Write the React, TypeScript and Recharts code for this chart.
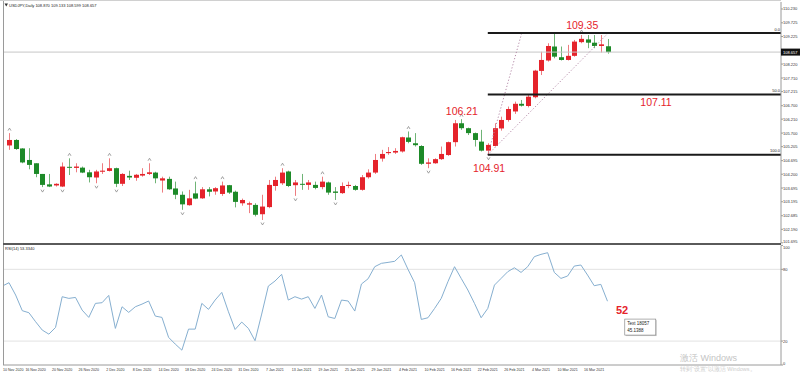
import { ComposedChart, Bar, LineChart, Line, XAxis, YAxis, ReferenceLine, ReferenceDot } from 'recharts';

const RED = '#e5232b';
const GREEN = '#1d8a28';
const RED_WICK = '#ee7c80';
const GREEN_WICK = '#6fb476';
const FONT = '"Liberation Sans", Arial, sans-serif';

// one label every 4 bars, first bar = 10 Nov 2020
const DATES = [
  '10 Nov 2020', '16 Nov 2020', '20 Nov 2020', '26 Nov 2020', '2 Dec 2020', '8 Dec 2020',
  '14 Dec 2020', '18 Dec 2020', '24 Dec 2020', '31 Dec 2020', '7 Jan 2021', '13 Jan 2021',
  '19 Jan 2021', '25 Jan 2021', '29 Jan 2021', '4 Feb 2021', '10 Feb 2021', '16 Feb 2021',
  '22 Feb 2021', '26 Feb 2021', '4 Mar 2021', '10 Mar 2021', '16 Mar 2021',
];

const OPEN = [
  105.25, 105.45, 105.14, 104.72, 104.60, 104.21, 103.83, 103.79, 103.75, 104.47,
  104.43, 104.44, 104.27, 104.08, 104.29, 104.32, 104.42, 103.85, 104.14, 104.07,
  104.15, 104.21, 104.26, 103.97, 104.03, 103.68, 103.45, 103.07, 103.50, 103.32,
  103.65, 103.57, 103.48, 103.80, 103.56, 103.14, 103.09, 103.08, 102.74, 103.00,
  103.77, 103.87, 104.30, 103.80, 103.85, 103.81, 103.81, 103.73, 103.90, 103.57,
  103.51, 103.77, 103.77, 103.63, 104.09, 104.26, 104.77, 104.97, 104.99, 105.03,
  105.54, 105.33, 105.23, 104.58, 104.60, 104.75, 104.90, 105.37, 106.06, 105.88,
  105.70, 105.39, 105.06, 105.23, 105.87, 106.18, 106.49, 106.77, 106.69, 107.01,
  107.97, 108.35, 108.86, 108.47, 108.37, 108.52, 109.02, 109.12, 109.00, 108.88,
  108.870,
];
const HIGH = [
  105.70, 105.48, 105.15, 105.15, 104.60, 104.21, 104.21, 103.87, 104.63, 104.78,
  104.60, 104.48, 104.36, 104.36, 104.60, 104.78, 104.44, 104.24, 104.33, 104.21,
  104.42, 104.60, 104.29, 104.11, 104.11, 103.93, 103.57, 103.63, 103.93, 103.73,
  103.73, 103.73, 103.93, 103.81, 103.60, 103.31, 103.20, 103.14, 103.45, 103.99,
  104.11, 104.42, 104.33, 103.99, 104.21, 103.99, 103.93, 104.11, 103.93, 103.73,
  103.90, 103.93, 103.81, 104.17, 104.38, 104.94, 105.09, 105.19, 105.15, 105.57,
  105.76, 105.70, 105.26, 104.78, 104.78, 105.21, 105.39, 106.18, 106.21, 105.90,
  105.72, 105.82, 105.33, 106.06, 106.30, 106.67, 106.85, 106.91, 107.09, 108.01,
  108.67, 108.98, 109.35, 108.86, 108.92, 109.10, 109.28, 109.28, 109.28, 109.28,
  109.133,
];
const LOW = [
  105.09, 105.09, 104.60, 104.38, 104.09, 103.73, 103.73, 103.75, 103.73, 104.17,
  104.27, 104.24, 103.90, 103.87, 104.21, 104.30, 103.73, 103.77, 103.99, 103.96,
  104.11, 104.17, 103.87, 103.53, 103.63, 103.29, 102.90, 103.05, 103.29, 103.30,
  103.39, 103.45, 103.41, 103.48, 102.99, 103.05, 102.78, 102.66, 102.53, 102.96,
  103.60, 103.81, 103.73, 103.41, 103.63, 103.63, 103.65, 103.65, 103.45, 103.26,
  103.48, 103.69, 103.60, 103.60, 104.04, 104.21, 104.66, 104.91, 104.94, 104.99,
  105.33, 105.21, 104.54, 104.42, 104.58, 104.72, 104.87, 105.21, 105.82, 105.63,
  105.21, 105.03, 104.91, 105.21, 105.79, 106.12, 106.40, 106.67, 106.64, 106.97,
  107.82, 108.31, 108.43, 108.35, 108.35, 108.49, 108.98, 108.80, 108.80, 108.64,
  108.599,
];
const CLOSE = [
  105.45, 105.12, 104.63, 104.54, 104.21, 103.81, 103.75, 103.85, 104.48, 104.44,
  104.48, 104.26, 104.09, 104.30, 104.33, 104.42, 103.85, 104.21, 104.08, 104.18,
  104.21, 104.27, 104.05, 104.05, 103.65, 103.45, 103.10, 103.32, 103.31, 103.65,
  103.56, 103.69, 103.79, 103.53, 103.19, 103.26, 103.14, 102.72, 103.02, 103.81,
  103.99, 104.26, 103.77, 103.90, 103.82, 103.90, 103.70, 103.93, 103.53, 103.52,
  103.77, 103.81, 103.63, 104.09, 104.26, 104.72, 104.94, 105.01, 105.05, 105.55,
  105.38, 105.26, 104.58, 104.63, 104.75, 104.94, 105.37, 106.06, 105.88, 105.70,
  105.45, 105.06, 105.27, 105.88, 106.18, 106.58, 106.77, 106.70, 107.03, 107.98,
  108.37, 108.88, 108.49, 108.37, 108.52, 109.04, 109.14, 109.00, 108.88, 108.94,
  108.657,
];

// RSI(14), starting one bar before the first candle (9 Nov 2020)
const RSI = [
  66.0,
  68.8, 58.5, 45.4, 43.7, 36.2, 29.2, 25.8, 31.4, 57.1, 55.7,
  56.5, 45.9, 39.8, 51.5, 52.1, 58.2, 30.6, 48.7, 44.0, 48.7,
  50.9, 53.5, 40.9, 39.8, 23.1, 17.5, 12.4, 30.0, 30.0, 51.5,
  46.5, 54.3, 60.7, 44.5, 29.7, 35.9, 30.6, 20.3, 42.6, 66.0,
  70.2, 75.8, 54.3, 57.1, 55.1, 57.1, 47.3, 58.5, 40.3, 38.9,
  54.3, 53.5, 45.1, 67.7, 72.1, 82.2, 85.0, 85.8, 86.7, 92.0,
  80.0, 68.8, 38.1, 39.5, 47.3, 55.7, 69.6, 82.2, 72.4, 62.7,
  51.5, 39.5, 47.3, 66.8, 72.4, 78.0, 81.3, 77.4, 82.2, 90.6,
  92.5, 93.9, 77.4, 72.4, 74.4, 82.7, 83.6, 75.2, 66.3, 67.4,
  53.33,
];

const FRACTAL_UP = [0, 9, 15, 21, 28, 32, 41, 47, 60, 68, 86];
const FRACTAL_DOWN = [5, 8, 13, 16, 26, 38, 43, 49, 63, 72];

const PRICE_TICKS = [
  110.23, 109.725, 109.225, 108.22, 107.71, 107.215, 106.7, 106.21, 105.7,
  105.205, 104.695, 104.2, 103.695, 103.195, 102.685, 102.19, 101.695,
];
const RSI_TICKS = [0, 20, 80, 100];

const SWING_LOW = 104.91;
const SWING_HIGH = 109.35;
const FIB_MID = 107.11;
const LAST_PRICE = 108.657;

const X_MIN = -0.9;
const X_MAX = 116.09;

const candles = OPEN.map((o, i) => ({
  idx: i,
  open: o,
  high: HIGH[i],
  low: LOW[i],
  close: CLOSE[i],
  range: [LOW[i], HIGH[i]],
  fu: FRACTAL_UP.includes(i),
  fd: FRACTAL_DOWN.includes(i),
}));
const rsiRows = RSI.map((v, i) => ({ idx: i - 1, rsi: v }));
const dateTicks = DATES.map((_, k) => k * 4);

const Candle = (props: any) => {
  const { x, y, width, height, payload } = props;
  if (!payload || x == null) return null;
  const { open, close, high, low, fu, fd } = payload;
  const top = Math.min(y, y + height);
  const h = Math.abs(height);
  const k = high > low ? h / (high - low) : 0;
  const py = (v: number) => top + (high - v) * k;
  const cx = Math.round(x + width / 2);
  const up = close >= open;
  const bTop = py(Math.max(open, close));
  const bH = Math.max(py(Math.min(open, close)) - bTop, 1);
  return (
    <g>
      <line x1={cx + 0.5} x2={cx + 0.5} y1={top} y2={top + h} stroke={up ? RED_WICK : GREEN_WICK} strokeWidth={1} />
      <rect x={cx - 2} y={bTop} width={5} height={bH} fill={up ? RED : GREEN} />
      {fu && (
        <path d={`M${cx - 1},${top - 2.5} L${cx + 0.5},${top - 5} L${cx + 2},${top - 2.5}`} stroke="#8c8c8c" strokeWidth={0.8} fill="none" />
      )}
      {fd && (
        <path d={`M${cx - 1},${top + h + 2.5} L${cx + 0.5},${top + h + 5} L${cx + 2},${top + h + 2.5}`} stroke="#8c8c8c" strokeWidth={0.8} fill="none" />
      )}
    </g>
  );
};

const Note = ({ viewBox, text, dx = 0, dy = 0, size = 10.5, anchor = 'middle', color = RED, weight = 'normal' }: any) => {
  const vb = viewBox || {};
  return (
    <text x={(vb.x ?? 0) + dx} y={(vb.y ?? 0) + dy} textAnchor={anchor} fontSize={size} fill={color} fontFamily={FONT} fontWeight={weight}>
      {text}
    </text>
  );
};

const PriceBox = ({ viewBox }: any) => {
  const vb = viewBox || {};
  const x = vb.x ?? 0;
  const y = vb.y ?? 0;
  return (
    <g>
      <rect x={x} y={y - 3.5} width={19} height={7} fill="#111" />
      <text x={x + 2} y={y + 1.5} fontSize={4} fill="#fff" fontFamily={FONT}>{LAST_PRICE.toFixed(3)}</text>
    </g>
  );
};

const InfoBox = ({ viewBox }: any) => {
  const vb = viewBox || {};
  const x = vb.x ?? 0;
  const y = vb.y ?? 0;
  return (
    <g>
      <rect x={x + 1} y={y + 1} width={31} height={16} fill="#cfcfcf" />
      <rect x={x} y={y} width={31} height={16} fill="#fff" stroke="#7a7a7a" strokeWidth={0.6} />
      <text x={x + 2.5} y={y + 6} fontSize={4.5} fill="#222" fontFamily={FONT}>Text 18057</text>
      <text x={x + 2.5} y={y + 12.5} fontSize={4.5} fill="#222" fontFamily={FONT}>45.1388</text>
    </g>
  );
};

const PriceTick = ({ x, y, payload }: any) => (
  <text x={x} y={y + (y > 240 ? 0 : 1.5)} fontSize={4} fill="#333" fontFamily={FONT} textAnchor="start">
    {Number(payload.value).toFixed(3)}
  </text>
);

const RsiTick = ({ x, y, payload }: any) => (
  <text x={x} y={y + (payload.value === 100 ? 3.5 : payload.value === 0 ? 0 : 1.5)} fontSize={4} fill="#333" fontFamily={FONT} textAnchor="start">
    {payload.value}
  </text>
);

const DateTick = ({ x, y, payload }: any) => {
  const first = payload.value === 0;
  return (
    <text x={first ? 3 : x} y={y + 5.5} fontSize={3.6} fill="#333" fontFamily={FONT} textAnchor={first ? 'start' : 'middle'}>
      {DATES[payload.value / 4]}
    </text>
  );
};

export default function App() {
  return (
    <div style={{ position: 'absolute', left: 0, top: 0, width: 800, height: 375, background: '#fff', overflow: 'hidden' }}>
      <div style={{ position: 'absolute', left: 0, top: 0 }}>
        <ComposedChart width={800} height={245} data={candles} margin={{ top: 2, right: 0, bottom: 2, left: 3 }}>
          <XAxis dataKey="idx" type="number" domain={[X_MIN, X_MAX]} allowDataOverflow hide />
          <YAxis
            orientation="right"
            width={19}
            domain={[101.69, 110.485]}
            allowDataOverflow
            ticks={PRICE_TICKS}
            interval={0}
            tickSize={2}
            tickMargin={0}
            stroke="#9a9a9a"
            tick={<PriceTick />}
          />
          <ReferenceLine y={LAST_PRICE} stroke="#c6c6c6" strokeWidth={1} />
          <Bar dataKey="range" barSize={5} shape={<Candle />} isAnimationActive={false} />
          <ReferenceLine segment={[{ x: 72, y: SWING_LOW }, { x: 77.1, y: SWING_HIGH }]} stroke="#b58aa8" strokeDasharray="1.2 2" strokeWidth={1} />
          <ReferenceLine segment={[{ x: 72, y: SWING_LOW }, { x: 90.1, y: SWING_HIGH }]} stroke="#b58aa8" strokeDasharray="1.2 2" strokeWidth={1} />
          <ReferenceLine segment={[{ x: 72, y: SWING_HIGH }, { x: X_MAX, y: SWING_HIGH }]} stroke="#1a1a1a" strokeWidth={2} />
          <ReferenceLine segment={[{ x: 72, y: FIB_MID }, { x: X_MAX, y: FIB_MID }]} stroke="#1a1a1a" strokeWidth={2} />
          <ReferenceLine segment={[{ x: 72, y: SWING_LOW }, { x: X_MAX, y: SWING_LOW }]} stroke="#1a1a1a" strokeWidth={2} />
          <ReferenceDot x={X_MAX} y={SWING_HIGH} r={0} label={<Note text="0.0" anchor="end" dx={-1} dy={-2.5} size={4} color="#222" />} />
          <ReferenceDot x={X_MAX} y={FIB_MID} r={0} label={<Note text="50.0" anchor="end" dx={-1} dy={-2.5} size={4} color="#222" />} />
          <ReferenceDot x={X_MAX} y={SWING_LOW} r={0} label={<Note text="100.0" anchor="end" dx={-1} dy={-2.5} size={4} color="#222" />} />
          <ReferenceDot x={86.2} y={SWING_HIGH} r={0} label={<Note text="109.35" dy={-4} />} />
          <ReferenceDot x={68.1} y={106.21} r={0} label={<Note text="106.21" dy={-4} />} />
          <ReferenceDot x={72.2} y={SWING_LOW} r={0} label={<Note text="104.91" dy={17} />} />
          <ReferenceDot x={97.3} y={FIB_MID} r={0} label={<Note text="107.11" dy={12} />} />
          <ReferenceDot x={X_MAX} y={LAST_PRICE} r={0} label={<PriceBox />} />
        </ComposedChart>
      </div>
      <div style={{ position: 'absolute', left: 0, top: 243 }}>
        <LineChart width={800} height={132} data={rsiRows} margin={{ top: 2.4, right: 0, bottom: 0, left: 3 }}>
          <XAxis
            dataKey="idx"
            type="number"
            domain={[X_MIN, X_MAX]}
            allowDataOverflow
            ticks={dateTicks}
            interval={0}
            height={10}
            tickSize={0}
            tickMargin={0}
            stroke="#9a9a9a"
            tick={<DateTick />}
          />
          <YAxis
            orientation="right"
            width={19}
            domain={[0, 100]}
            ticks={RSI_TICKS}
            interval={0}
            tickSize={2}
            tickMargin={0}
            stroke="#9a9a9a"
            tick={<RsiTick />}
          />
          <ReferenceLine y={80} stroke="#e2e2e2" />
          <ReferenceLine y={20} stroke="#e2e2e2" />
          <Line dataKey="rsi" type="linear" stroke="#86afd0" strokeWidth={1} dot={false} isAnimationActive={false} />
          <ReferenceDot x={92.2} y={42.6} r={0} label={<Note text="52" size={11} weight="bold" />} />
          <ReferenceDot x={92.6} y={38.4} r={0} label={<InfoBox />} />
        </LineChart>
      </div>
      <svg width={800} height={375} style={{ position: 'absolute', left: 0, top: 0, pointerEvents: 'none' }}>
        <line x1={3.5} x2={3.5} y1={0} y2={365} stroke="#9a9a9a" />
        <line x1={0} x2={781} y1={0.5} y2={0.5} stroke="#d0d0d0" />
        <line x1={3} x2={781} y1={244} y2={244} stroke="#5a5a5a" strokeWidth={2} />
        <path d="M4.5,3.5 L8,3.5 L6.25,6.5 Z" fill="#333" />
        <text x={9} y={6.5} fontSize={4} fill="#222" fontFamily={FONT}>USDJPY,Daily  108.870 109.133 108.599 108.657</text>
        <text x={5} y={249.5} fontSize={4} fill="#222" fontFamily={FONT}>RSI(14) 53.3340</text>
        <text x={680} y={361} fontSize={9} fill="#c4c4c4" fontFamily={FONT}>激活 Windows</text>
        <text x={680} y={371} fontSize={5.5} fill="#cdcdcd" fontFamily={FONT}>转到“设置”以激活 Windows。</text>
      </svg>
    </div>
  );
}
